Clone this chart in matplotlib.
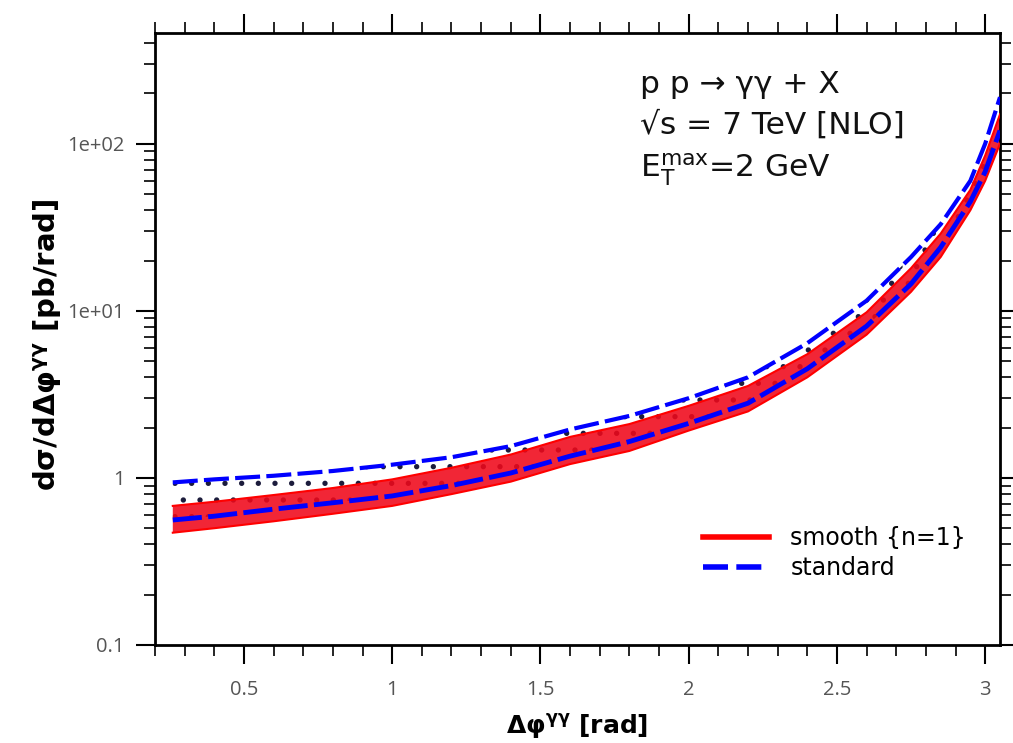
import numpy as np
import matplotlib
matplotlib.use('Agg')
import matplotlib.pyplot as plt
from matplotlib.ticker import FixedLocator, MultipleLocator, FuncFormatter, NullFormatter

plt.rcParams['font.family'] = ['Open Sans', 'DejaVu Sans']
plt.rcParams['mathtext.default'] = 'regular'
plt.rcParams['hatch.linewidth'] = 1.4

#delta phi bins and cross sections
dphi = [0.26, 0.4, 0.6, 0.8, 1.0, 1.2, 1.4, 1.6, 1.8, 2.0, 2.2, 2.4, 2.6, 2.75, 2.85, 2.95, 3.0, 3.05]
standard_hi = [0.94, 0.98, 1.03, 1.10, 1.20, 1.33, 1.55, 1.95, 2.35, 3.0, 4.0, 6.4, 11.5, 21, 33, 60, 100, 190]
standard_lo = [0.56, 0.59, 0.65, 0.71, 0.78, 0.90, 1.07, 1.35, 1.65, 2.12, 2.8, 4.5, 8.1, 14.5, 24, 45, 68, 120]
smooth_hi = [0.68, 0.72, 0.79, 0.87, 0.98, 1.15, 1.38, 1.76, 2.10, 2.7, 3.55, 5.5, 9.8, 18, 29, 53, 85, 150]
smooth_lo = [0.47, 0.50, 0.55, 0.61, 0.68, 0.80, 0.95, 1.21, 1.45, 1.92, 2.5, 4.0, 7.2, 13, 21, 40, 60, 100]

y_major = [0.1, 1, 10, 100]
y_major_labels = ['0.1', '1', '1e+01', '1e+02']
x_major = [0.5, 1, 1.5, 2, 2.5, 3]
x_major_labels = ['0.5', '1', '1.5', '2', '2.5', '3']

process_lines = ['p p \u2192 \u03b3\u03b3 + X', '\u221as = 7 TeV [NLO]', 'E$_T^{max}$=2 GeV']
label_font = ['DejaVu Sans']

fig = plt.figure(figsize=(10.13, 7.43), dpi=100)
ax = fig.add_axes([155 / 1013, 1 - 645 / 743, 845 / 1013, 612 / 743])

#standard band: dotted hatch between the two dashed lines
ax.fill_between(dphi, standard_lo, standard_hi, facecolor='none', edgecolor='#1c1c3c',
                hatch='.', linewidth=0, zorder=1)

#smooth band
ax.fill_between(dphi, smooth_lo, smooth_hi, facecolor='#f0081a', alpha=0.88, linewidth=0, zorder=2)
ax.plot(dphi, smooth_hi, color='#ff0000', lw=1.5, zorder=3)
ax.plot(dphi, smooth_lo, color='#ff0000', lw=1.5, zorder=3)

#standard edges
ax.plot(dphi, standard_hi, color='#0000ff', lw=3.0, dashes=(6, 1.5), zorder=4)
ax.plot(dphi, standard_lo, color='#0000ff', lw=3.5, dashes=(6, 1.3), zorder=4)

ax.set_yscale('log')
ax.set_xlim(0.2, 3.05)
ax.set_ylim(0.1, 460)

#ticks
ax.yaxis.set_major_locator(FixedLocator(y_major))
ax.yaxis.set_minor_locator(FixedLocator([m * d for d in [0.1, 1, 10, 100] for m in range(2, 10)]))
ax.yaxis.set_major_formatter(FuncFormatter(lambda v, p: y_major_labels[y_major.index(v)] if v in y_major else ''))
ax.yaxis.set_minor_formatter(NullFormatter())
ax.xaxis.set_major_locator(FixedLocator(x_major))
ax.xaxis.set_major_formatter(FuncFormatter(lambda v, p: x_major_labels[x_major.index(v)] if v in x_major else ''))
ax.xaxis.set_minor_locator(MultipleLocator(0.1))

ax.tick_params(which='both', direction='out', top=True, right=True, colors='black',
               labelcolor='#555555', labelsize=14.5)
ax.tick_params(which='major', length=14, width=1.5, pad=8)
ax.tick_params(which='minor', length=8, width=1.2)
ax.tick_params(axis='x', which='major', pad=11)
for side in ['left', 'right', 'top', 'bottom']:
    ax.spines[side].set_linewidth(2)

ax.set_xlabel('\u0394\u03c6$^{\u03b3\u03b3}$ [rad]', fontsize=18, fontweight='bold', family=label_font, labelpad=9)
ax.set_ylabel('d\u03c3/d\u0394\u03c6$^{\u03b3\u03b3}$ [pb/rad]', fontsize=21, fontweight='bold', family=label_font)
ax.yaxis.set_label_coords(-0.108, 0.49)

#process annotation
baselines = [93, 134, 177]
for txt, yb in zip(process_lines, baselines):
    ax.text((640 - 155) / 845, (645 - yb) / 612, txt, transform=ax.transAxes,
            fontsize=22.5, ha='left', va='baseline', color='#111111', family=label_font)

#legend
h1, = ax.plot([], [], color='#ff0000', lw=4, label='smooth {n=1}')
h2, = ax.plot([], [], color='#0000ff', lw=4, dashes=(4.5, 1.5), label='standard')
ax.legend(handles=[h1, h2], loc='upper left', bbox_to_anchor=((703 - 155) / 845, (645 - 526) / 612),
          frameon=False, prop={'family': label_font, 'size': 17}, handlelength=2.8, handletextpad=0.9,
          labelspacing=0.25, borderpad=0, borderaxespad=0)

fig.savefig('out.png', dpi=100)
